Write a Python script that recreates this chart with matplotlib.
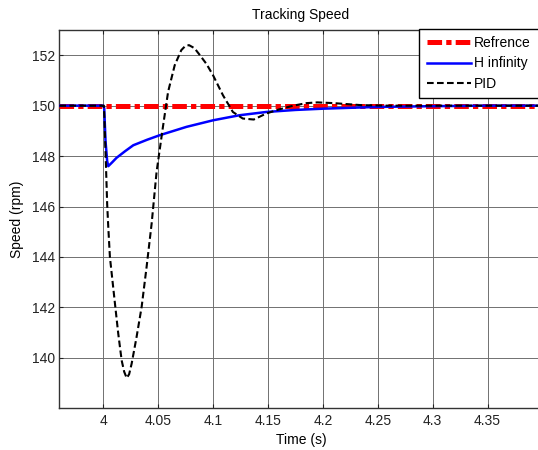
import matplotlib
matplotlib.use("Agg")
import matplotlib.pyplot as plt

plt.rcParams['font.family'] = ['Liberation Sans', 'DejaVu Sans']
plt.rcParams['lines.scale_dashes'] = False

# Reference speed
t_ref = [3.96, 4.40]
v_ref = [150.0, 150.0]

# H-infinity controller response
t_hinf = [3.96, 4.0, 4.0008, 4.002, 4.0035, 4.0045, 4.008, 4.012, 4.02, 4.0273,
          4.04, 4.0515, 4.0758, 4.1, 4.124, 4.1485, 4.175, 4.2, 4.25, 4.3, 4.35, 4.40]
v_hinf = [150.0, 150.0, 149.9, 148.6, 147.8, 147.6, 147.75, 147.93, 148.2, 148.43,
          148.65, 148.83, 149.16, 149.42, 149.62, 149.75, 149.83, 149.88, 149.95, 149.98, 150.0, 150.0]

# PID controller response
t_pid = [3.96, 4.0, 4.0005, 4.001, 4.0025, 4.0035, 4.0045, 4.006, 4.0106, 4.0136,
         4.0167, 4.019, 4.0213, 4.0235, 4.0258, 4.0303, 4.0349, 4.0394, 4.044, 4.0485,
         4.0545, 4.059, 4.065, 4.071, 4.0745, 4.078, 4.083, 4.088, 4.094, 4.1, 4.109,
         4.118, 4.127, 4.137, 4.1485, 4.16, 4.173, 4.185, 4.195, 4.21, 4.235, 4.26,
         4.3, 4.40]
v_pid = [150.0, 150.0, 150.0, 149.5, 147.5, 146.1, 145.2, 144.0, 142.15, 140.96,
         139.9, 139.45, 139.2, 139.35, 139.77, 140.83, 142.02, 143.6, 145.32, 147.37,
         149.22, 150.55, 151.6, 152.2, 152.36, 152.4, 152.28, 152.0, 151.65, 151.2, 150.41,
         149.75, 149.49, 149.45, 149.69, 149.85, 150.0, 150.1, 150.13, 150.1, 150.02, 150.0,
         150.0, 150.0]

xticks = [4.0, 4.05, 4.1, 4.15, 4.2, 4.25, 4.3, 4.35]
xticklabels = ['4', '4.05', '4.1', '4.15', '4.2', '4.25', '4.3', '4.35']
yticks = [140, 142, 144, 146, 148, 150, 152]

W, H = 538, 450
fig = plt.figure(figsize=(W / 100, H / 100), dpi=100)
ax_left, ax_right, ax_top, ax_bottom = 59.4, 542.5, 30.0, 408.3
ax = fig.add_axes([ax_left / W, 1 - ax_bottom / H,
                   (ax_right - ax_left) / W, (ax_bottom - ax_top) / H])

ax.plot(t_ref, v_ref, color='#ff0000', linewidth=3.6,
        linestyle=(0, (10.5, 3.0, 3.8, 3.0)), solid_capstyle='butt',
        dash_capstyle='butt', label='Refrence', zorder=3)
ax.plot(t_hinf, v_hinf, color='#0000ff', linewidth=1.8, label='H infinity', zorder=4)
ax.plot(t_pid, v_pid, color='black', linewidth=1.5,
        linestyle=(0, (4.8, 2.4)), label='PID', zorder=5)

ax.set_xlim(3.96, 4.40)
ax.set_ylim(138, 153)
ax.set_xticks(xticks)
ax.set_xticklabels(xticklabels)
ax.set_yticks(yticks)

ax.grid(True, color='#707070', linewidth=0.7, linestyle='-')
ax.set_axisbelow(True)
ax.tick_params(direction='in', length=3, width=0.8, colors='#222222',
               labelsize=10, top=True, right=True, pad=4)
ax.tick_params(axis='y', pad=3)
for s in ax.spines.values():
    s.set_color('#333333')
    s.set_linewidth(1.0)

ax.set_title('Tracking Speed', fontsize=10, pad=8)
ax.set_xlabel('Time (s)', fontsize=10, labelpad=3.5)
ax.set_ylabel('Speed (rpm)', fontsize=10, labelpad=6)

leg = ax.legend(loc='upper left',
                bbox_to_anchor=(419 / W, 1 - 28.5 / H, 125 / W, 0.0),
                bbox_transform=fig.transFigure, mode='expand', borderaxespad=0,
                fontsize=10, handlelength=3.17, handletextpad=0.25,
                labelspacing=0.45, borderpad=0.55, fancybox=False,
                framealpha=1, edgecolor='black')
leg.get_frame().set_linewidth(1.0)

fig.savefig('out.png', dpi=100)
